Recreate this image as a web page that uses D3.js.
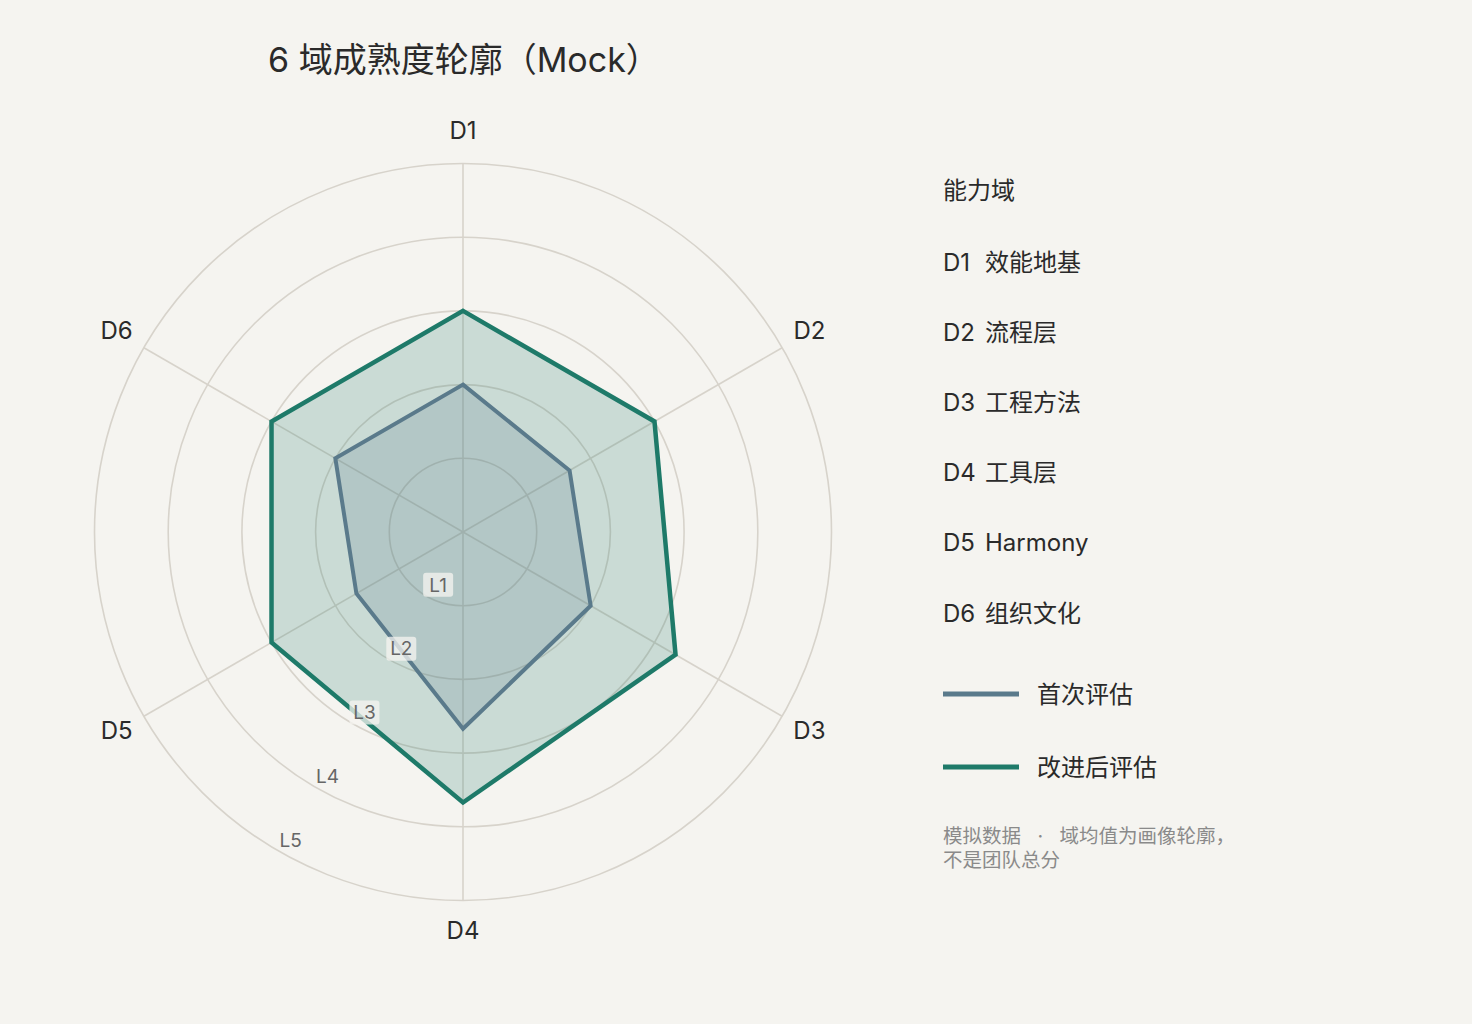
<!DOCTYPE html>
<html>
<head>
<meta charset="utf-8">
<script src="https://cdn.jsdelivr.net/npm/d3@7"></script>
<style>
  body { margin: 0; padding: 0; background: #f5f4f0; }
  svg { display: block; font-family: Inter, "Noto Sans CJK SC", sans-serif; }
</style>
</head>
<body>
<script>
const axes = ['D1', 'D2', 'D3', 'D4', 'D5', 'D6'];
const domainNames = ['效能地基', '流程层', '工程方法', '工具层', 'Harmony', '组织文化'];
const levels = ['L1', 'L2', 'L3', 'L4', 'L5'];
const firstEval = [2.0, 1.67, 2.0, 2.67, 1.67, 2.0];
const improvedEval = [3.0, 3.0, 3.33, 3.67, 3.0, 3.0];
const seriesNames = ['首次评估', '改进后评估'];
const noteLines = ['模拟数据 · 域均值为画像轮廓，', '不是团队总分'];

const width = 1472, height = 1024;
const cx = 463, cy = 532;
const bg = '#f5f4f0';
const colors = ['#5a7a8b', '#1e7a69'];

const svg = d3.select('body').append('svg')
  .attr('width', width)
  .attr('height', height);

svg.append('rect').attr('width', width).attr('height', height).attr('fill', bg);

// title
svg.append('text')
  .attr('x', 268).attr('y', 72)
  .attr('font-size', 34)
  .attr('fill', '#2a2a2a')
  .text('6 域成熟度轮廓（Mock）');

const rScale = d3.scaleLinear().domain([0, 5]).range([0, 368.5]);
const angle = d3.scalePoint().domain(axes.concat(['_'])).range([0, 2 * Math.PI]);

const g = svg.append('g').attr('transform', `translate(${cx},${cy})`);

// rings
g.append('g').selectAll('circle')
  .data(levels)
  .join('circle')
    .attr('r', (d, i) => rScale(i + 1))
    .attr('fill', 'none')
    .attr('stroke', '#d7d3cb')
    .attr('stroke-width', 1.6);

// spokes
g.append('g').selectAll('line')
  .data(axes)
  .join('line')
    .attr('x1', 0).attr('y1', 0)
    .attr('x2', d => rScale(5) * Math.sin(angle(d)))
    .attr('y2', d => -rScale(5) * Math.cos(angle(d)))
    .attr('stroke', '#d7d3cb')
    .attr('stroke-width', 1.6);

// axis labels
g.append('g').selectAll('text')
  .data(axes)
  .join('text')
    .attr('x', d => 400 * Math.sin(angle(d)))
    .attr('y', d => -400 * Math.cos(angle(d)))
    .attr('text-anchor', 'middle')
    .attr('dy', '0.3em')
    .attr('font-size', 24)
    .attr('fill', '#2a2a2a')
    .text(d => d);

// series polygons
const radar = d3.lineRadial()
  .angle((d, i) => angle(axes[i]))
  .radius(d => rScale(d))
  .curve(d3.curveLinearClosed);

const series = [improvedEval, firstEval];
const seriesColors = [colors[1], colors[0]];
g.append('g').selectAll('path')
  .data(series)
  .join('path')
    .attr('d', radar)
    .attr('fill', (d, i) => seriesColors[i])
    .attr('fill-opacity', 0.2)
    .attr('stroke', (d, i) => seriesColors[i])
    .attr('stroke-width', (d, i) => i === 0 ? 4.5 : 4)
    .attr('stroke-linejoin', 'miter');

// level labels along 210deg
const la = Math.PI * 7 / 6;
const lvl = g.append('g').selectAll('g')
  .data(levels)
  .join('g')
    .attr('transform', (d, i) => `translate(${rScale(i + 1) * Math.sin(la) + 12},${-rScale(i + 1) * Math.cos(la) - 11})`);
lvl.append('rect')
  .attr('x', -15).attr('y', -12)
  .attr('width', 30).attr('height', 24)
  .attr('rx', 3)
  .attr('fill', bg)
  .attr('fill-opacity', (d, i) => i < 3 ? 0.75 : 0);
lvl.append('text')
  .attr('text-anchor', 'middle')
  .attr('dy', '0.36em')
  .attr('font-size', 19)
  .attr('fill', '#666')
  .text(d => d);

// legend
const lg = svg.append('g').attr('transform', 'translate(943,0)');
lg.append('text')
  .attr('x', 0).attr('y', 190)
  .attr('dy', '0.36em')
  .attr('font-size', 24)
  .attr('fill', '#2a2a2a')
  .text('能力域');

const itemY = d3.scalePoint().domain(axes).range([262, 613]);
const items = lg.append('g').selectAll('text')
  .data(axes)
  .join('text')
    .attr('x', 0)
    .attr('y', d => itemY(d))
    .attr('dy', '0.36em')
    .attr('font-size', 24)
    .attr('fill', '#2a2a2a');
items.append('tspan').text(d => d);
items.append('tspan').attr('x', 42).text((d, i) => domainNames[i]);

const serY = d3.scalePoint().domain(seriesNames).range([694, 767]);
const ser = lg.append('g').selectAll('g')
  .data(seriesNames)
  .join('g')
    .attr('transform', d => `translate(0,${serY(d)})`);
ser.append('line')
  .attr('x1', 0).attr('x2', 76)
  .attr('stroke', (d, i) => colors[i])
  .attr('stroke-width', 5);
ser.append('text')
  .attr('x', 94)
  .attr('dy', '0.36em')
  .attr('font-size', 24)
  .attr('fill', '#2a2a2a')
  .text(d => d);

lg.append('g').selectAll('text')
  .data(noteLines)
  .join('text')
    .attr('x', 0)
    .attr('y', (d, i) => 836 + i * 24)
    .attr('dy', '0.36em')
    .attr('font-size', 19.5)
    .attr('fill', '#8a8a8a')
    .attr('xml:space', 'preserve')
    .text(d => d.replace(' · ', '   ·   '));
</script>
</body>
</html>
